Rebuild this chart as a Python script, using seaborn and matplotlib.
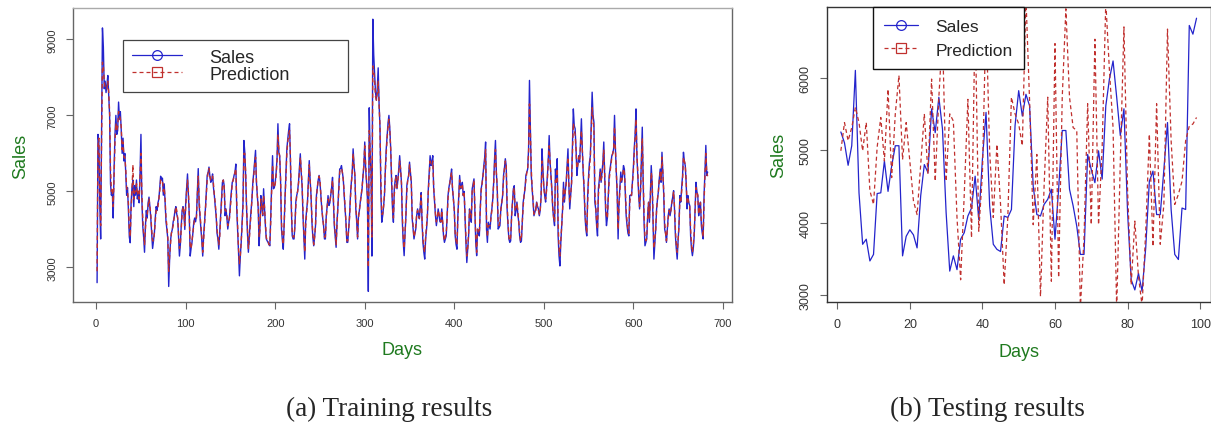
import numpy as np
import pandas as pd
import seaborn as sns
import matplotlib
matplotlib.use("Agg")
import matplotlib.pyplot as plt
from matplotlib.lines import Line2D

# training period, daily sales
train_sales = [
    2600, 6500, 6300, 4700, 3750, 6500, 9300, 8800, 7700, 7900,
    7600, 7800, 8050, 7500, 7000, 5200, 4900, 5000, 4300, 5600,
    6500, 7000, 6500, 6600, 7350, 6900, 7100, 6600, 6000, 6400,
    5800, 6000, 5500, 4900, 5100, 4500, 3800, 3650, 4700, 5100,
    5300, 4600, 5150, 4900, 5300, 4800, 5000, 4700, 5500, 6500,
    4800, 4100, 3800, 3400, 4100, 4500, 4300, 4700, 4850, 4600,
    4300, 3900, 3500, 3700, 3900, 4300, 4600, 4500, 4700, 4800,
    5100, 5400, 5300, 5350, 4900, 5200, 4700, 4200, 4000, 3750,
    2500, 3200, 3700, 3900, 4000, 4200, 4300, 4500, 4600, 4400,
    4300, 3800, 3300, 3600, 4100, 4500, 4600, 4400, 4000, 4700,
    5100, 5460, 4900, 4360, 3300, 3500, 3660, 3900, 4190, 4300,
    4200, 4360, 5000, 5600, 4630, 4300, 4010, 3700, 3300, 3830,
    4200, 4540, 5000, 5420, 5500, 5640, 5400, 5240, 5300, 5460,
    5100, 4890, 4600, 4360, 3900, 3750, 3480, 3900, 4360, 4800,
    5240, 5300, 5150, 4360, 4540, 4300, 4010, 4200, 4360, 4710,
    5000, 5240, 5300, 5420, 5500, 5720, 4540, 4000, 3400, 2780,
    3300, 3660, 4200, 4710, 6340, 6030, 5400, 4540, 3900, 3400,
    3800, 4190, 4500, 4800, 5240, 5500, 5800, 6080, 5240, 4900,
    4540, 3570, 4100, 4890, 4600, 4360, 5070, 4600, 4100, 3750,
    3700, 3660, 3600, 3570, 4360, 5100, 5940, 5070, 5100, 5240,
    5500, 5860, 6780, 6030, 5940, 5240, 4010, 3700, 3480, 4200,
    4890, 5500, 6120, 6380, 6600, 6780, 5770, 4540, 3830, 3750,
    3750, 4100, 4720, 4890, 5000, 5240, 5600, 5990, 5500, 5150,
    4360, 3800, 3220, 4190, 4500, 4720, 5300, 5810, 5300, 4890,
    4190, 3800, 3570, 3800, 4100, 4890, 5100, 5300, 5420, 5240,
    4900, 4540, 4300, 4100, 3750, 3750, 4360, 4600, 4890, 4630,
    4700, 4890, 5100, 5370, 4710, 4100, 3800, 3530, 4190, 4600,
    5070, 5590, 5600, 5680, 5500, 5330, 4900, 4540, 4190, 3660,
    3660, 4000, 4360, 4890, 5240, 5500, 6120, 5700, 5420, 4540,
    4200, 3750, 4360, 4500, 4720, 4900, 5070, 5400, 5680, 6300,
    5600, 5240, 4800, 2370, 7200, 6000, 5500, 3300, 9530, 8600,
    8100, 7600, 7400, 7700, 8250, 7300, 6700, 5000, 4190, 4360,
    4600, 4890, 5590, 6120, 6470, 6800, 7000, 6650, 6120, 5240,
    4540, 4190, 5070, 5300, 5420, 5070, 5300, 5590, 5940, 5600,
    5240, 4190, 3660, 3310, 3900, 4360, 5150, 5300, 5420, 5770,
    5500, 5240, 4280, 4000, 3750, 3900, 4010, 4360, 4540, 4400,
    4280, 4600, 4970, 4190, 3660, 3400, 3220, 3750, 4000, 4360,
    5070, 5500, 5940, 5680, 5800, 5940, 5070, 4700, 4360, 4100,
    4300, 4540, 4360, 4200, 4190, 4540, 4200, 3830, 3660, 3750,
    3830, 4360, 4890, 5100, 5240, 5400, 5590, 5070, 4800, 4540,
    3830, 3600, 3480, 4360, 4900, 5420, 5070, 5100, 5240, 4890,
    5000, 4300, 3660, 3130, 3500, 3830, 4540, 4400, 4190, 5070,
    5200, 5330, 4540, 3660, 3310, 4010, 3900, 3830, 4540, 5070,
    5200, 5420, 5680, 5900, 6300, 4010, 3660, 4190, 4100, 4010,
    4360, 4540, 4800, 5240, 5860, 6340, 5500, 5070, 4010, 4050,
    4100, 4540, 4700, 4890, 5420, 5600, 5860, 5680, 4540, 4100,
    3750, 3660, 3700, 4360, 4700, 5070, 5150, 4360, 4500, 4720,
    4400, 4190, 3830, 3660, 3700, 4190, 4720, 4900, 5070, 5420,
    5500, 5590, 6120, 7920, 6730, 5420, 5070, 4700, 4360, 4450,
    4540, 4720, 4600, 4540, 4360, 4500, 4890, 6120, 5600, 5150,
    4900, 4720, 5070, 5400, 5860, 6470, 5770, 5400, 5070, 4540,
    4300, 4100, 5590, 5240, 5860, 3830, 3300, 3040, 3660, 4100,
    4540, 5240, 4720, 5000, 5240, 5700, 6120, 5150, 4540, 4900,
    5240, 6200, 7170, 6730, 6650, 6120, 5420, 5700, 5940, 5770,
    6300, 6910, 6120, 5500, 5070, 4360, 4000, 3830, 4890, 5400,
    5770, 5940, 6800, 7610, 7000, 6820, 4720, 4540, 4100, 3830,
    5070, 5300, 5590, 5240, 5500, 5770, 6300, 5400, 4540, 4100,
    4300, 4890, 5420, 5600, 5770, 5940, 6000, 6120, 7000, 6120,
    5500, 4890, 3750, 4720, 5100, 5510, 5240, 5400, 5680, 5590,
    5000, 4360, 4100, 3900, 3830, 4890, 4900, 4890, 5240, 5600,
    6120, 6500, 7170, 5940, 5400, 4890, 4540, 5000, 5860, 6690,
    5240, 4190, 3570, 3660, 3750, 4360, 4720, 4190, 4890, 5680,
    5240, 4190, 3220, 3600, 4010, 4540, 4800, 5000, 5330, 5590,
    5240, 6030, 5500, 4890, 4010, 3900, 3660, 4000, 4360, 4540,
    4360, 4500, 4720, 4850, 5020, 4540, 3830, 3500, 3220, 3700,
    4100, 4890, 4720, 5100, 5420, 6030, 5800, 5680, 5240, 4540,
    4890, 4700, 4630, 3830, 3480, 3310, 3500, 3830, 4540, 5240,
    5000, 4890, 4360, 4600, 4720, 4100, 3900, 3750, 4890, 5500,
    6210, 5420, 5510,
]

train_pred = [
    2900, 6200, 6400, 5000, 4100, 6200, 8400, 8300, 7900, 7700,
    7700, 7700, 7900, 7600, 7100, 5600, 5000, 5100, 4600, 5400,
    6300, 6800, 6600, 6700, 7100, 7000, 6900, 6700, 6100, 6300,
    5900, 5900, 5600, 5100, 5000, 4700, 4000, 3800, 4500, 5000,
    5700, 4800, 5000, 5000, 5200, 4900, 5000, 4800, 5400, 6000,
    5000, 4300, 3900, 3600, 4000, 4400, 4400, 4600, 4800, 4600,
    4400, 4000, 3700, 3700, 3900, 4200, 4500, 4500, 4600, 4800,
    5000, 5300, 5300, 5300, 5000, 5100, 4800, 4300, 4100, 3800,
    2900, 3300, 3600, 3900, 4000, 4100, 4300, 4400, 4600, 4500,
    4300, 3900, 3500, 3600, 4000, 4400, 4600, 4500, 4100, 4600,
    5000, 5300, 5000, 4400, 3500, 3500, 3700, 3900, 4100, 4300,
    4300, 4300, 4900, 5400, 4800, 4400, 4100, 3800, 3400, 3700,
    4100, 4500, 4900, 5300, 5500, 5600, 5400, 5300, 5300, 5400,
    5200, 4900, 4700, 4400, 4000, 3800, 3600, 3800, 4300, 4700,
    5100, 5300, 5100, 4500, 4500, 4400, 4100, 4200, 4300, 4600,
    4900, 5200, 5300, 5400, 5500, 5600, 4700, 4100, 3500, 3100,
    3300, 3700, 4100, 4600, 6000, 6000, 5500, 4600, 4000, 3500,
    3700, 4100, 4400, 4800, 5200, 5400, 5700, 5900, 5300, 4900,
    4600, 3800, 4000, 4800, 4600, 4400, 4900, 4600, 4200, 3800,
    3700, 3700, 3600, 3600, 4200, 5000, 5700, 5200, 5100, 5200,
    5400, 5800, 6500, 6100, 5900, 5300, 4200, 3800, 3600, 4100,
    4800, 5400, 6000, 6300, 6500, 6600, 5900, 4700, 3900, 3800,
    3800, 4100, 4600, 4900, 5000, 5200, 5500, 5900, 5600, 5200,
    4500, 3900, 3400, 4100, 4400, 4700, 5200, 5700, 5300, 4900,
    4300, 3900, 3600, 3800, 4100, 4800, 5100, 5300, 5400, 5300,
    4900, 4600, 4300, 4100, 3800, 3800, 4300, 4600, 4800, 4700,
    4700, 4900, 5100, 5300, 4800, 4200, 3900, 3600, 4100, 4600,
    5000, 5500, 5600, 5600, 5500, 5300, 5000, 4600, 4200, 3700,
    3700, 4000, 4300, 4800, 5200, 5500, 6000, 5700, 5400, 4600,
    4300, 3800, 4300, 4500, 4700, 4900, 5100, 5400, 5700, 6200,
    5700, 5300, 4900, 3000, 6600, 6100, 5500, 3800, 8300, 8200,
    7900, 7500, 7400, 7600, 7900, 7300, 6700, 5300, 4400, 4400,
    4600, 4900, 5500, 6000, 6400, 6700, 6900, 6600, 6100, 5400,
    4700, 4300, 4900, 5200, 5400, 5100, 5300, 5500, 5800, 5600,
    5200, 4400, 3800, 3500, 3900, 4400, 5000, 5300, 5400, 5700,
    5500, 5200, 4400, 4100, 3800, 3900, 4100, 4400, 4500, 4400,
    4300, 4600, 4900, 4300, 3800, 3500, 3400, 3800, 4100, 4400,
    5000, 5400, 5800, 5700, 5700, 5800, 5100, 4800, 4400, 4200,
    4300, 4500, 4400, 4300, 4200, 4500, 4200, 3900, 3700, 3800,
    3900, 4300, 4800, 5100, 5200, 5400, 5500, 5100, 4800, 4500,
    3900, 3700, 3600, 4300, 4800, 5300, 5100, 5100, 5200, 4900,
    5000, 4400, 3800, 3300, 3500, 3900, 4500, 4400, 4300, 5000,
    5100, 5300, 4600, 3800, 3400, 4000, 3900, 3900, 4500, 5000,
    5200, 5400, 5600, 5800, 6100, 4300, 3800, 4100, 4100, 4100,
    4300, 4500, 4800, 5200, 5700, 6100, 5500, 5100, 4200, 4100,
    4200, 4500, 4700, 4900, 5300, 5600, 5800, 5700, 4700, 4200,
    3800, 3700, 3800, 4300, 4700, 5000, 5100, 4500, 4500, 4700,
    4500, 4200, 3900, 3700, 3800, 4200, 4600, 4900, 5100, 5300,
    5500, 5600, 6000, 7300, 6600, 5600, 5100, 4800, 4400, 4500,
    4500, 4700, 4600, 4500, 4400, 4500, 4900, 5800, 5500, 5100,
    4900, 4800, 5000, 5300, 5800, 6200, 5800, 5400, 5000, 4600,
    4300, 4200, 5300, 5200, 5600, 4200, 3500, 3300, 3700, 4100,
    4500, 5100, 4800, 5000, 5200, 5600, 5900, 5200, 4700, 4900,
    5200, 6000, 6800, 6600, 6500, 6100, 5600, 5700, 5900, 5800,
    6200, 6600, 6100, 5600, 5100, 4500, 4100, 3900, 4700, 5300,
    5600, 5900, 6600, 7200, 6900, 6600, 5000, 4600, 4200, 4000,
    4900, 5200, 5500, 5300, 5400, 5700, 6100, 5500, 4700, 4300,
    4300, 4800, 5300, 5500, 5700, 5900, 6000, 6100, 6700, 6100,
    5500, 5000, 4000, 4600, 5000, 5400, 5300, 5400, 5600, 5500,
    5100, 4500, 4200, 4000, 3900, 4700, 4900, 4900, 5200, 5500,
    6000, 6400, 6900, 6000, 5500, 5000, 4600, 4900, 5700, 6400,
    5400, 4400, 3800, 3700, 3800, 4300, 4700, 4300, 4800, 5500,
    5300, 4400, 3500, 3700, 4000, 4500, 4800, 5000, 5300, 5500,
    5300, 5900, 5500, 5000, 4200, 3900, 3700, 4000, 4300, 4500,
    4400, 4500, 4700, 4800, 5000, 4600, 4000, 3600, 3400, 3700,
    4100, 4800, 4700, 5000, 5300, 5900, 5800, 5700, 5300, 4700,
    4800, 4700, 4600, 4000, 3600, 3400, 3600, 3900, 4500, 5100,
    5000, 4900, 4400, 4600, 4700, 4200, 4000, 3800, 4700, 5400,
    6000, 5500, 5400,
]

# testing period, panel (b)
test_sales = [
    5250, 5100, 4790, 5060, 6100, 4410, 3700, 3770, 3470, 3560,
    4400, 4410, 4850, 4430, 4780, 5060, 5060, 3540, 3810, 3900,
    3830, 3650, 4370, 4800, 4690, 5570, 5240, 5730, 5290, 4140,
    3330, 3540, 3350, 3770, 3860, 4090, 4200, 4640, 4040, 4870,
    5520, 4230, 3700, 3630, 3600, 4090, 4070, 4180, 5340, 5820,
    5470, 5770, 5610, 4500, 4110, 4090, 4250, 4320, 4460, 3770,
    4460, 5270, 5270, 4460, 4230, 3950, 3560, 3560, 4940, 4730,
    4550, 4990, 4600, 5610, 5980, 6230, 5730, 5200, 5570, 4140,
    3210, 3070, 3300, 3050, 3650, 4570, 4710, 4110, 4110, 4730,
    5380, 4180, 3560, 3490, 4200, 4180, 6720, 6600, 6820,
]

test_pred = [
    4990, 5380, 5130, 5310, 5590, 5380, 4990, 5380, 4440, 4250,
    5040, 5450, 4850, 5840, 4620, 5500, 6030, 4870, 5380, 4850,
    4300, 4110, 4800, 5500, 4670, 5980, 4570, 5730, 6600, 4570,
    5500, 5400, 4070, 3210, 4390, 5700, 3790, 6860, 3880, 4670,
    6860, 4990, 4070, 5080, 4250, 3140, 4070, 5730, 5500, 5360,
    5060, 7100, 5680, 3970, 4940, 2980, 4500, 5730, 3190, 6470,
    3240, 5730, 6950, 5730, 5310, 5270, 2820, 3790, 5640, 3970,
    6530, 3970, 5040, 7050, 6100, 5310, 2800, 4850, 6700, 4440,
    3140, 4020, 3260, 2850, 3880, 5220, 3670, 5640, 3700, 4250,
    6670, 5130, 4250, 4390, 4570, 5130, 5330, 5360, 5450,
]

SALES_COLOR = "#2424cc"
PRED_COLOR = "#c0302e"
LABEL_COLOR = "#1f7a1f"

sns.set_style("white")
plt.rcParams["font.family"] = ["Liberation Sans", "DejaVu Sans"]


def r_limits(values):
    # R style axis range: data range padded by 4 percent each side
    lo, hi = min(values), max(values)
    pad = 0.04 * (hi - lo)
    return lo - pad, hi + pad


def draw_panel(ax, sales, pred, xticks, yticks, tick_size, spine_color, lw):
    df = pd.DataFrame({"Days": np.arange(1, len(sales) + 1), "Sales": sales, "Prediction": pred})
    sns.lineplot(data=df, x="Days", y="Sales", ax=ax, color=SALES_COLOR,
                 linewidth=lw, sort=False, errorbar=None)
    sns.lineplot(data=df, x="Days", y="Prediction", ax=ax, color=PRED_COLOR,
                 linewidth=lw, sort=False, errorbar=None)
    ax.lines[-1].set_dashes([3.2, 2.4])

    ax.set_xlim(r_limits(df["Days"]))
    ax.set_ylim(r_limits(sales))
    ax.set_xticks(xticks)
    ax.set_yticks(yticks)
    ax.tick_params(axis="both", direction="out", length=5, width=0.8,
                   color="#666666", labelsize=tick_size, labelcolor="#333333",
                   bottom=True, left=True, pad=6)
    for lab in ax.get_yticklabels():
        lab.set_rotation(90)
        lab.set_va("center")
    for sp in ax.spines.values():
        sp.set_color(spine_color)
        sp.set_linewidth(1.0)
    ax.set_xlabel("Days", color=LABEL_COLOR, fontsize=13, labelpad=10)
    ax.set_ylabel("Sales", color=LABEL_COLOR, fontsize=13)


fig = plt.figure(figsize=(12.11, 4.27), dpi=100)

ax1 = fig.add_axes([0.060, 0.2897, 0.5445, 0.6885])
draw_panel(ax1, train_sales, train_pred, range(0, 701, 100), range(3000, 9001, 2000),
           8, "#666666", 1.0)
ax1.spines["top"].set_color("#aaaaaa")
ax1.yaxis.labelpad = 13

ax2 = fig.add_axes([0.6826, 0.2897, 0.3172, 0.6909])
draw_panel(ax2, test_sales, test_pred, range(0, 101, 20), range(3000, 6001, 1000),
           9, "#333333", 0.9)
ax2.yaxis.labelpad = 9

handles = [
    Line2D([], [], color=SALES_COLOR, lw=0.9, marker="o", mfc="none", ms=7, mew=0.9),
    Line2D([], [], color=PRED_COLOR, lw=0.9, ls=(0, (3.2, 2.4)), marker="s",
           mfc="none", ms=6.5, mew=0.9),
]
labels = ["Sales", "Prediction"]

leg1 = ax1.legend(handles, labels, loc="upper left", bbox_to_anchor=(0.0758, 0.718, 0.342, 0.175),
                  mode="expand", fontsize=13, frameon=True, fancybox=False,
                  edgecolor="#444444", framealpha=1, numpoints=1, handlelength=2.8,
                  handletextpad=1.5, labelspacing=0.0, borderpad=0.5, borderaxespad=0)
leg1.get_frame().set_linewidth(0.9)

leg2 = ax2.legend(handles, labels, loc="upper left", bbox_to_anchor=(0.121, 0.777, 0.393, 0.223),
                  mode="expand", fontsize=12.5, frameon=True, fancybox=False,
                  edgecolor="#111111", framealpha=1, numpoints=1, handlelength=1.95,
                  handletextpad=1.0, labelspacing=0.5, borderpad=0.65, borderaxespad=0)
leg2.get_frame().set_linewidth(1.0)

fig.text(389 / 1211, 1 - 409 / 427, "(a) Training results", ha="center", va="center",
         fontsize=19.5, family=["Liberation Serif", "DejaVu Serif"])
fig.text(987 / 1211, 1 - 409 / 427, "(b) Testing results", ha="center", va="center",
         fontsize=19.5, family=["Liberation Serif", "DejaVu Serif"])

fig.savefig("out.png", dpi=100)
